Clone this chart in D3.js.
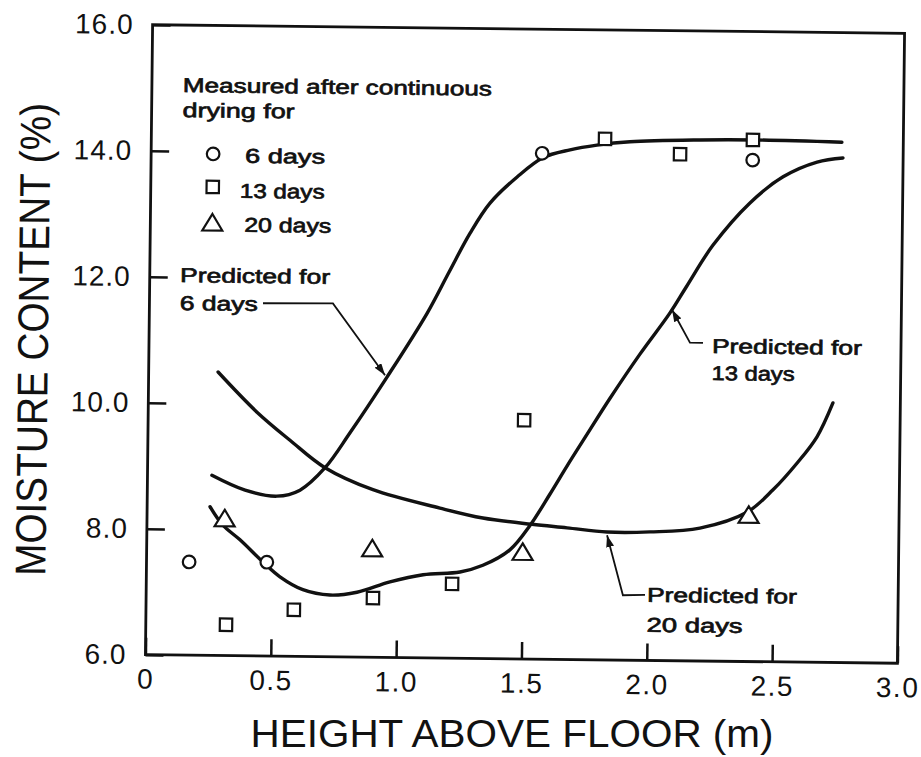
<!DOCTYPE html>
<html>
<head>
<meta charset="utf-8">
<script src="https://cdn.jsdelivr.net/npm/d3@7"></script>
<style>
  body { margin: 0; background: #fff; }
  svg { display: block; }
</style>
</head>
<body>
<div id="chart"></div>
<script>
// measured points (height m, moisture %)
var measHeight6 = [0.17, 0.48, 1.56, 2.40];
var measMoist6 = [7.48, 7.49, 14.03, 13.96];
var measHeight13 = [0.32, 0.59, 0.905, 1.22, 1.50, 1.81, 2.11, 2.40];
var measMoist13 = [6.49, 6.74, 6.94, 7.18, 9.79, 14.27, 14.04, 14.28];
var measHeight20 = [0.31, 0.90, 1.50, 2.40];
var measMoist20 = [8.18, 7.73, 7.70, 8.33];

// predicted curves
var predHeight6 = [0.257, 0.390, 0.517, 0.609, 0.708, 0.806, 0.951, 1.108, 1.194, 1.276, 1.354, 1.461, 1.563, 1.671, 1.778, 1.910, 2.189, 2.404, 2.755];
var predMoist6 = [8.86, 8.63, 8.54, 8.64, 9.00, 9.56, 10.45, 11.47, 12.13, 12.75, 13.23, 13.65, 13.96, 14.09, 14.17, 14.23, 14.27, 14.28, 14.26];
var predHeight13 = [0.251, 0.303, 0.372, 0.465, 0.533, 0.625, 0.733, 0.841, 0.972, 1.104, 1.251, 1.342, 1.449, 1.528, 1.606, 1.673, 1.752, 1.841, 1.959, 2.077, 2.143, 2.245, 2.391, 2.522, 2.657, 2.760];
var predMoist13 = [8.36, 8.07, 7.84, 7.49, 7.26, 7.06, 6.98, 7.03, 7.20, 7.32, 7.37, 7.48, 7.73, 8.12, 8.62, 9.07, 9.58, 10.15, 10.86, 11.52, 11.95, 12.60, 13.28, 13.70, 13.94, 14.01];
var predHeight20 = [0.277, 0.434, 0.567, 0.708, 0.900, 1.168, 1.340, 1.536, 1.676, 1.836, 2.007, 2.206, 2.393, 2.496, 2.591, 2.669, 2.731];
var predMoist20 = [10.50, 9.87, 9.43, 9.00, 8.66, 8.38, 8.23, 8.14, 8.09, 8.03, 8.04, 8.11, 8.37, 8.73, 9.16, 9.58, 10.12];

var xTickValues = [0, 0.5, 1.0, 1.5, 2.0, 2.5, 3.0];
var yTickValues = [6, 8, 10, 12, 14, 16];

var legendLabels = ["6 days", "13 days", "20 days"];

var W = 921, H = 757;
var svg = d3.select("#chart").append("svg")
    .attr("width", W)
    .attr("height", H);

// the scan is tilted slightly clockwise
var g = svg.append("g")
    .attr("transform", "rotate(0.65,525,344)");

var x = d3.scaleLinear().domain([0, 3]).range([149, 901]);
var y = d3.scaleLinear().domain([6, 16]).range([659, 29]);

var ink = "#111";
var sans = "Liberation Sans, Arial, sans-serif";
var fmt = function (d) { return d === 0 ? "0" : d.toFixed(1); };

// x axis (inward ticks)
g.append("g")
    .attr("transform", "translate(0," + y(6) + ")")
    .call(d3.axisBottom(x)
        .tickValues(xTickValues)
        .tickFormat(fmt)
        .tickSizeInner(-17)
        .tickSizeOuter(0)
        .tickPadding(14))
    .call(function (a) { a.select(".domain").remove(); })
    .call(function (a) {
        a.selectAll(".tick line").attr("stroke", ink).attr("stroke-width", 2.5);
        a.selectAll(".tick text")
            .attr("fill", ink)
            .style("font-family", sans)
            .style("font-size", "28px")
            .style("letter-spacing", "1.5px");
    });

// y axis (inward ticks)
g.append("g")
    .attr("transform", "translate(" + x(0) + ",0)")
    .call(d3.axisLeft(y)
        .tickValues(yTickValues)
        .tickFormat(function (d) { return d.toFixed(1); })
        .tickSizeInner(-18)
        .tickSizeOuter(0)
        .tickPadding(19))
    .call(function (a) { a.select(".domain").remove(); })
    .call(function (a) {
        a.selectAll(".tick line").attr("stroke", ink).attr("stroke-width", 2.5);
        a.selectAll(".tick text")
            .attr("fill", ink)
            .style("font-family", sans)
            .style("font-size", "28px")
            .style("letter-spacing", "1px");
    });

// frame
g.append("rect")
    .attr("x", x(0))
    .attr("y", y(16))
    .attr("width", x(3) - x(0))
    .attr("height", y(6) - y(16))
    .attr("fill", "none")
    .attr("stroke", ink)
    .attr("stroke-width", 2.8);

// axis titles (x title kept level so it stays inside the page)
svg.append("text")
    .attr("x", 512)
    .attr("y", 747)
    .attr("text-anchor", "middle")
    .attr("textLength", 523)
    .attr("lengthAdjust", "spacingAndGlyphs")
    .attr("fill", ink)
    .style("font-family", sans)
    .style("font-size", "39px")
    .text("HEIGHT ABOVE FLOOR (m)");

g.append("text")
    .attr("transform", "translate(48,345) rotate(-90)")
    .attr("text-anchor", "middle")
    .attr("textLength", 473)
    .attr("lengthAdjust", "spacingAndGlyphs")
    .attr("fill", ink)
    .style("font-family", sans)
    .style("font-size", "43px")
    .text("MOISTURE CONTENT (%)");

// predicted curves
var line = d3.line()
    .x(function (d) { return x(d[0]); })
    .y(function (d) { return y(d[1]); })
    .curve(d3.curveCatmullRom.alpha(0.5));

[[predHeight6, predMoist6], [predHeight13, predMoist13], [predHeight20, predMoist20]].forEach(function (s) {
    g.append("path")
        .datum(d3.zip(s[0], s[1]))
        .attr("d", line)
        .attr("fill", "none")
        .attr("stroke", ink)
        .attr("stroke-width", 3.4)
        .attr("stroke-linecap", "round");
});

// marker shapes
function circleMark(sel) {
    sel.append("circle").attr("r", 6.3)
        .attr("fill", "#fff").attr("stroke", ink).attr("stroke-width", 2.2);
}
function squareMark(sel) {
    sel.append("rect").attr("x", -6.2).attr("y", -6.2).attr("width", 12.4).attr("height", 12.4)
        .attr("fill", "#fff").attr("stroke", ink).attr("stroke-width", 2.2);
}
function triangleMark(sel) {
    sel.append("path").attr("d", "M0,-8.5L10,8L-10,8Z")
        .attr("fill", "#fff").attr("stroke", ink).attr("stroke-width", 2.2)
        .attr("stroke-linejoin", "miter");
}

function drawPoints(hs, ms, shape) {
    g.selectAll(null)
        .data(d3.zip(hs, ms))
        .enter()
        .append("g")
        .attr("transform", function (d) { return "translate(" + x(d[0]) + "," + y(d[1]) + ")"; })
        .each(function () { shape(d3.select(this)); });
}
drawPoints(measHeight6, measMoist6, circleMark);
drawPoints(measHeight13, measMoist13, squareMark);
drawPoints(measHeight20, measMoist20, triangleMark);

// legend and notes use a slightly heavy regular face
function label(px, py, str, len) {
    g.append("text")
        .attr("x", px).attr("y", py)
        .attr("textLength", len)
        .attr("lengthAdjust", "spacingAndGlyphs")
        .attr("fill", ink)
        .attr("stroke", ink)
        .attr("stroke-width", 0.7)
        .style("font-family", sans)
        .style("font-size", "20px")
        .text(str);
}
label(180, 96, "Measured after continuous", 309);
label(180, 121, "drying for", 112);

var legendShapes = [circleMark, squareMark, triangleMark];
var legendY = [157.5, 190.5, 226];
var legendTextY = [166, 201, 235];
var legendLen = [80, 85, 87];
legendLabels.forEach(function (t, i) {
    var m = g.append("g").attr("transform", "translate(211," + legendY[i] + ")");
    legendShapes[i](m);
    label(i === 1 ? 238 : 243, legendTextY[i], t, legendLen[i]);
});

// annotations with arrows
var defs = svg.append("defs");
defs.append("marker")
    .attr("id", "arrow")
    .attr("viewBox", "0 0 12 8")
    .attr("refX", 12).attr("refY", 4)
    .attr("markerWidth", 12).attr("markerHeight", 8)
    .attr("markerUnits", "userSpaceOnUse")
    .attr("orient", "auto")
    .append("path")
    .attr("d", "M0,0L12,4L0,8Z")
    .attr("fill", ink);

var annotations = [
    { lines: ["Predicted for", "6 days"], tx: 0.121, ty: 11.92, lens: [150, 78], lh: 28,
      leader: [[0.453, 11.60], [0.732, 11.61], [0.943, 10.48]] },
    { lines: ["Predicted for", "13 days"], tx: 2.246, ty: 10.89, lens: [150, 83], lh: 27,
      leader: [[2.210, 11.05], [2.158, 11.05], [2.085, 11.57]] },
    { lines: ["Predicted for", "20 days"], tx: 1.998, ty: 6.93, lens: [150, 96], lh: 30,
      leader: [[1.990, 7.04], [1.902, 7.03], [1.836, 7.98]] }
];

annotations.forEach(function (a) {
    a.lines.forEach(function (t, i) {
        label(x(a.tx), y(a.ty) + i * a.lh, t, a.lens[i]);
    });
    g.append("path")
        .attr("d", d3.line()(a.leader.map(function (p) { return [x(p[0]), y(p[1])]; })))
        .attr("fill", "none")
        .attr("stroke", ink)
        .attr("stroke-width", 1.8)
        .attr("marker-end", "url(#arrow)");
});
</script>
</body>
</html>
